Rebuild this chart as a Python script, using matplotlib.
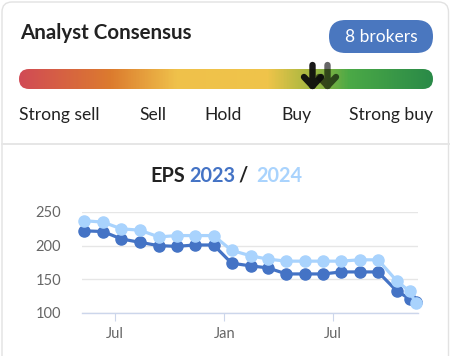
import matplotlib
matplotlib.use("Agg")
import matplotlib.pyplot as plt
import numpy as np
from matplotlib.colors import LinearSegmentedColormap
from matplotlib.markers import MarkerStyle
from matplotlib.patches import FancyBboxPatch
from matplotlib.path import Path

plt.rcParams["font.family"] = ["Lato", "DejaVu Sans"]

# consensus gauge
rating_labels = ["Strong sell", "Sell", "Hold", "Buy", "Strong buy"]
consensus_now = 3.83
consensus_prev = 3.98
brokers = 8

# EPS estimate history
dates = np.array([
    "2023-05-11", "2023-06-11", "2023-07-12", "2023-08-12", "2023-09-13",
    "2023-10-13", "2023-11-13", "2023-12-14", "2024-01-13", "2024-02-14",
    "2024-03-14", "2024-04-14", "2024-05-15", "2024-06-15", "2024-07-15",
    "2024-08-15", "2024-09-15", "2024-10-16", "2024-11-07", "2024-11-17",
], dtype="datetime64[D]")
eps_2023 = [222, 221, 210, 205, 200, 199, 201, 201, 174, 170,
            167, 158, 158, 158, 161, 161, 161, 133, 121, 117]
eps_2024 = [237, 235, 225, 223, 213, 215, 215, 215, 193, 185,
            180, 177, 177, 177, 177, 179, 179, 148, 132, 115]
tick_dates = np.array(["2023-07-01", "2024-01-01", "2024-07-01"], dtype="datetime64[D]")
tick_labels = ["Jul", "Jan", "Jul"]

c2023 = "#4473c5"
c2024 = "#a9d3fd"
text_dark = "#222222"

W, H = 450, 356
fig = plt.figure(figsize=(W / 100, H / 100), dpi=100)

# background in pixel coordinates
bg = fig.add_axes([0, 0, 1, 1], zorder=0)
bg.set_xlim(0, W)
bg.set_ylim(H, 0)
bg.axis("off")

card = FancyBboxPatch((2, 2), 446.5, 420, boxstyle="round,pad=0,rounding_size=10",
                      fc="white", ec="#e2e2e2", lw=1.0, zorder=0)
bg.add_patch(card)
bg.plot([2, W], [144, 144], color="#e6e6e6", lw=1.4)

bg.text(20, 33, "Analyst Consensus", fontsize=14.8, fontweight="bold",
        color=text_dark, va="center", ha="left")

badge = FancyBboxPatch((329, 20), 104, 33, boxstyle="round,pad=0,rounding_size=16.5",
                       fc="#4a77bf", ec="none")
bg.add_patch(badge)
bg.text(381, 36.5, f"{brokers} brokers", fontsize=12.5, color="white",
        va="center", ha="center")

# gradient bar
cmap = LinearSegmentedColormap.from_list("cons", [
    (0.0, "#d14b55"), (0.22, "#dc7b2e"), (0.38, "#efc14b"), (0.6, "#efc44a"),
    (0.7, "#a9b840"), (0.8, "#4ba946"), (1.0, "#2a8a48")])
grad = np.linspace(0, 1, 400).reshape(1, -1)
im = bg.imshow(grad, cmap=cmap, extent=(19, 433, 89, 69), aspect="auto",
               interpolation="bilinear", zorder=2)
bar_clip = FancyBboxPatch((19, 69), 414, 20, boxstyle="round,pad=0,rounding_size=10",
                          fc="none", ec="none", transform=bg.transData)
bg.add_patch(bar_clip)
im.set_clip_path(bar_clip)
bg.set_xlim(0, W)
bg.set_ylim(H, 0)

label_x = [19, 153, 223, 296, 433]
label_ha = ["left", "center", "center", "center", "right"]
for lab, x, ha in zip(rating_labels, label_x, label_ha):
    bg.text(x, 115, lab, fontsize=12.6, color=text_dark, ha=ha, va="center")

# arrows on a 1..5 scale over the bar
gauge = fig.add_axes([19 / W, (H - 89) / H, 414 / W, 20 / H], zorder=2)
gauge.set_xlim(1, 5)
gauge.set_ylim(0, 1)
gauge.axis("off")
arrow_path = Path(
    [(0, 10.5), (0, -10.5), (-8.5, -1.5), (0, -10.5), (8.5, -1.5)],
    [Path.MOVETO, Path.LINETO, Path.MOVETO, Path.LINETO, Path.LINETO])
arrow = MarkerStyle(arrow_path, capstyle="round", joinstyle="round")
for v, col in [(consensus_prev, (0, 0, 0, 0.6)), (consensus_now, (0.05, 0.05, 0.05, 0.95))]:
    gauge.plot([v], [0.725], marker=arrow, markersize=15.1, mfc="none",
               mec=col, mew=4.6, ls="none", clip_on=False)

# EPS title, pieces chained together
t1 = bg.text(150, 176, "EPS", fontsize=14.3, fontweight="bold", color=text_dark,
             va="center", ha="left")
t2 = bg.annotate("2023", xy=(1, 0), xycoords=t1, xytext=(3.5, 0),
                 textcoords="offset points", fontsize=14.3, fontweight="bold",
                 color=c2023, va="bottom")
t3 = bg.annotate("/", xy=(1, 0), xycoords=t2, xytext=(2, 0),
                 textcoords="offset points", fontsize=14.3, fontweight="bold",
                 color=text_dark, va="bottom")
bg.annotate("2024", xy=(1, 0), xycoords=t3, xytext=(6, 0),
            textcoords="offset points", fontsize=14.3, fontweight="bold",
            color=c2024, va="bottom")

# EPS chart
ax = fig.add_axes([82 / W, (H - 313) / H, 336 / W, 101 / H], zorder=3)
ax.patch.set_alpha(0)
ax.plot(dates, eps_2023, color=c2023, lw=2.3, marker="o", ms=8, clip_on=False, zorder=3)
ax.plot(dates, eps_2024, color=c2024, lw=2.3, marker="o", ms=8, clip_on=False, zorder=4)

ax.set_xlim(np.datetime64("2023-05-07"), np.datetime64("2024-11-21"))
ax.set_ylim(100, 250)
ax.set_yticks([100, 150, 200, 250])
ax.set_xticks(tick_dates)
ax.set_xticklabels(tick_labels)
ax.grid(axis="y", color="#e6e6e6", lw=1.0, zorder=0)
for side in ["top", "right", "left"]:
    ax.spines[side].set_visible(False)
ax.spines["bottom"].set_color("#ccd6eb")
ax.spines["bottom"].set_linewidth(1.0)
ax.tick_params(axis="y", length=0, pad=15, labelsize=10.5, labelcolor="#666666")
ax.tick_params(axis="x", length=6, width=0.8, color="#ccd6eb", pad=4,
               labelsize=10.5, labelcolor="#666666")

fig.savefig("out.png", dpi=100)
